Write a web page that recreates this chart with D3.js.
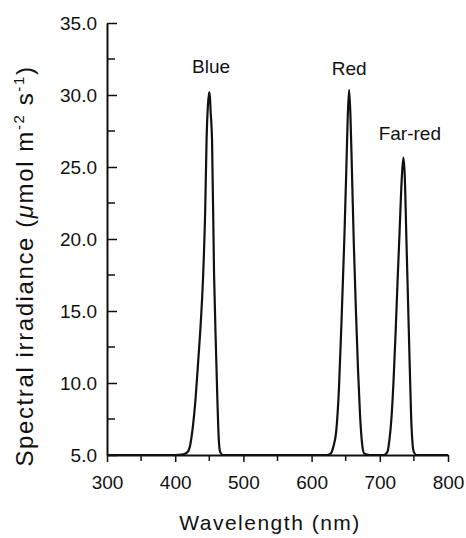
<!DOCTYPE html>
<html>
<head>
<meta charset="utf-8">
<script src="https://cdn.jsdelivr.net/npm/d3@7"></script>
<style>
  body { margin: 0; background: #fff; }
  svg { display: block; font-family: "Liberation Sans", Arial, Helvetica, sans-serif; }
</style>
</head>
<body>
<svg id="chart" width="466" height="538"></svg>
<script>

// ===========================//
// DATA
// ===========================//

// wavelength (nm) and spectral irradiance of each LED peak
var blueNm  = [400, 412, 418, 422, 426, 430, 434, 438, 441, 444, 446, 448, 450, 451, 452, 454, 457, 460, 462, 464, 466, 470]
var blueVal = [5.0, 5.05, 5.2, 5.7, 7.0, 9.0, 11.7, 14.6, 17.5, 22.0, 26.9, 29.3, 30.2, 29.8, 28.8, 26.9, 17.5, 12.0, 8.6, 6.0, 5.2, 5.0]

var redNm  = [600, 622, 628, 632, 636, 640, 644, 648, 651, 653, 655, 657, 659, 662, 665, 668, 671, 674, 677, 685]
var redVal = [5.0, 5.0, 5.1, 5.6, 6.6, 9.5, 14.5, 20.0, 25.0, 28.5, 30.35, 28.5, 25.0, 19.5, 15.0, 11.0, 7.8, 5.8, 5.1, 5.0]

var farRedNm  = [690, 706, 711, 714, 717, 720, 723, 726, 729, 732, 734.5, 736.5, 739, 741.5, 744, 746, 748, 750, 754]
var farRedVal = [5.0, 5.0, 5.2, 6.0, 7.5, 10.0, 13.3, 17.0, 20.5, 24.0, 25.65, 24.5, 20.0, 15.5, 11.0, 7.6, 5.8, 5.2, 5.0]

// flat background on both ends
var baseNm  = [300, 800]
var baseVal = [5.0, 5.0]

// peak labels (placed in data units)
var peakNames = ["Blue", "Red", "Far-red"]
var labelNm   = [452.5, 655, 744]
var labelVal  = [31.55, 31.4, 26.9]

// axis ticks
var xTicks = [300, 400, 500, 600, 700, 800]
var xMinor = [350, 450, 550, 650, 750]
var yTicks = [5, 10, 15, 20, 25, 30, 35]
var yMinor = [7.5, 12.5, 17.5, 22.5, 27.5, 32.5]


// ===========================//
// SCALES
// ===========================//

var svg = d3.select("#chart")

var x = d3.scaleLinear().domain([300, 800]).range([107, 448])
var y = d3.scaleLinear().domain([5, 35]).range([455, 23])

// one spectrum from all pieces
var spectrum = []
function addPiece(nm, val){
  nm.forEach(function(d, i){ spectrum.push({nm: d, v: val[i]}) })
}
addPiece(baseNm, baseVal)
addPiece(blueNm, blueVal)
addPiece(redNm, redVal)
addPiece(farRedNm, farRedVal)
spectrum.sort(function(a, b){ return a.nm - b.nm })


// ===========================//
// AXES
// ===========================//

// y axis, ticks pointing inside
var yAxis = svg.append("g")
  .attr("transform", "translate(" + x(300) + ",0)")
  .call(d3.axisLeft(y).tickValues(yTicks).tickSizeInner(-10).tickSizeOuter(0)
        .tickFormat(d3.format(".1f")))
yAxis.selectAll("text").attr("x", -10).style("font-size", "19px").attr("fill", "#111")
yAxis.append("g").selectAll("line")
  .data(yMinor).enter().append("line")
    .attr("x1", 0).attr("x2", 8)
    .attr("y1", function(d){ return y(d) }).attr("y2", function(d){ return y(d) })
    .attr("stroke", "#111")

// x axis, ticks pointing outside
var xAxis = svg.append("g")
  .attr("transform", "translate(0," + y(5) + ")")
  .call(d3.axisBottom(x).tickValues(xTicks).tickSizeInner(7).tickSizeOuter(0).tickPadding(14))
xAxis.selectAll("text").style("font-size", "19px").attr("fill", "#111")
xAxis.append("g").selectAll("line")
  .data(xMinor).enter().append("line")
    .attr("x1", function(d){ return x(d) }).attr("x2", function(d){ return x(d) })
    .attr("y1", 0).attr("y2", 6)
    .attr("stroke", "#111")

svg.selectAll(".domain").attr("stroke", "#111").attr("stroke-width", 2)
svg.selectAll(".tick line").attr("stroke", "#111").attr("stroke-width", 1.5)
svg.selectAll("g g line").attr("stroke-width", 1.5)

// axis titles
svg.append("text")
  .attr("x", 270).attr("y", 530)
  .attr("text-anchor", "middle")
  .style("font-size", "21px")
  .style("letter-spacing", "1.5px")
  .attr("fill", "#111")
  .text("Wavelength (nm)")

var yTitle = svg.append("text")
  .attr("transform", "translate(33,266) rotate(-90)")
  .attr("text-anchor", "middle")
  .style("font-size", "24px")
  .style("letter-spacing", "1.6px")
  .attr("fill", "#111")
yTitle.append("tspan").text("Spectral irradiance (")
yTitle.append("tspan").style("font-style", "italic").text("\u03bc")
yTitle.append("tspan").text("mol m")
yTitle.append("tspan").attr("dy", -9).style("font-size", "15px").text("-2")
yTitle.append("tspan").attr("dy", 9).text(" s")
yTitle.append("tspan").attr("dy", -9).style("font-size", "15px").text("-1")
yTitle.append("tspan").attr("dy", 9).text(")")


// ===========================//
// SPECTRUM LINE
// ===========================//

var line = d3.line()
  .x(function(d){ return x(d.nm) })
  .y(function(d){ return y(d.v) })
  .curve(d3.curveMonotoneX)

svg.append("path")
  .datum(spectrum)
  .attr("d", line)
  .attr("fill", "none")
  .attr("stroke", "#111")
  .attr("stroke-width", 2.2)
  .attr("stroke-linejoin", "round")

// peak labels
svg.selectAll(".peakLabel")
  .data(peakNames)
  .enter()
  .append("text")
    .attr("class", "peakLabel")
    .attr("x", function(d, i){ return x(labelNm[i]) })
    .attr("y", function(d, i){ return y(labelVal[i]) })
    .attr("text-anchor", "middle")
    .style("font-size", "19px")
    .attr("fill", "#111")
    .text(function(d){ return d })

</script>
</body>
</html>
